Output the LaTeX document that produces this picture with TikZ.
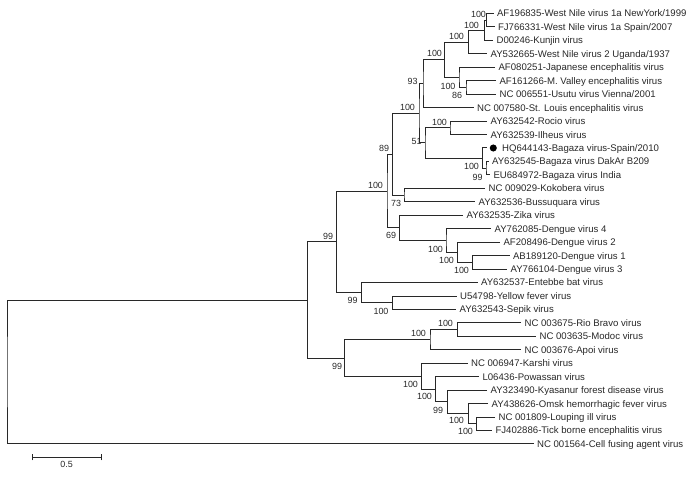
\documentclass[tikz,border=0pt]{standalone}
\usepackage{fontspec}
\setmainfont{Liberation Sans}
\definecolor{ink}{RGB}{40,40,40}
\newcommand\taxfont{\fontsize{7.2}{8.5}\selectfont}
\newcommand\bootfont{\fontsize{6.7}{8}\selectfont}
\tikzset{every picture/.style={line width=0.75pt}}

\begin{document}
\begin{tikzpicture}[x=0.75pt,y=0.75pt,yscale=-1,
  taxon/.style={anchor=west,inner xsep=2.3pt,inner ysep=0pt,text height=5.2pt,text depth=0pt,text=ink,font=\taxfont},
  boot/.style={inner sep=0pt,text height=4.8pt,text depth=0pt,text=ink,font=\bootfont},
  branch/.style={draw=ink},
  spot/.style={circle,fill=black,inner sep=0pt,minimum size=5.3pt}]
\useasboundingbox (0,0) rectangle (700,481);

% Taxa
\node[taxon] (l1) at (493.5,13.5) {AF196835-West Nile virus 1a NewYork/1999};
\node[taxon] (l2) at (494.5,27) {FJ766331-West Nile virus 1a Spain/2007};
\node[taxon] (l3) at (493,40.4) {D00246-Kunjin virus};
\node[taxon] (l4) at (487,53.9) {AY532665-West Nile virus 2 Uganda/1937};
\node[taxon] (l5) at (495,67.3) {AF080251-Japanese encephalitis virus};
\node[taxon] (l6) at (496,80.8) {AF161266-M. Valley encephalitis virus};
\node[taxon] (l7) at (496,94.2) {NC 006551-Usutu virus Vienna/2001};
\node[taxon] (l8) at (473.5,107.7) {NC 007580-St. Louis encephalitis virus};
\node[taxon] (l9) at (487,121.1) {AY632542-Rocio virus};
\node[taxon] (l10) at (487,134.6) {AY632539-Ilheus virus};
\node[taxon] (l11) at (486.7,148) {\hspace{8.9pt}HQ644143-Bagaza virus-Spain/2010};
\node[taxon] (l12) at (488.5,161.5) {AY632545-Bagaza virus DakAr B209};
\node[taxon] (l13) at (490,174.9) {EU684972-Bagaza virus India};
\node[taxon] (l14) at (485,188.4) {NC 009029-Kokobera virus};
\node[taxon] (l15) at (475,201.8) {AY632536-Bussuquara virus};
\node[taxon] (l16) at (463,215.3) {AY632535-Zika virus};
\node[taxon] (l17) at (491,228.7) {AY762085-Dengue virus 4};
\node[taxon] (l18) at (500,242.2) {AF208496-Dengue virus 2};
\node[taxon] (l19) at (509.5,255.6) {AB189120-Dengue virus 1};
\node[taxon] (l20) at (507,269.1) {AY766104-Dengue virus 3};
\node[taxon] (l21) at (477.5,282.5) {AY632537-Entebbe bat virus};
\node[taxon] (l22) at (456.5,296) {U54798-Yellow fever virus};
\node[taxon] (l23) at (456,309.4) {AY632543-Sepik virus};
\node[taxon] (l24) at (521,322.9) {NC 003675-Rio Bravo virus};
\node[taxon] (l25) at (536,336.3) {NC 003635-Modoc virus};
\node[taxon] (l26) at (521,349.8) {NC 003676-Apoi virus};
\node[taxon] (l27) at (467.5,363.2) {NC 006947-Karshi virus};
\node[taxon] (l28) at (479,376.7) {L06436-Powassan virus};
\node[taxon] (l29) at (487,390.1) {AY323490-Kyasanur forest disease virus};
\node[taxon] (l30) at (488,403.6) {AY438626-Omsk hemorrhagic fever virus};
\node[taxon] (l31) at (495,417) {NC 001809-Louping ill virus};
\node[taxon] (l32) at (492,430.5) {FJ402886-Tick borne encephalitis virus};
\node[taxon] (l33) at (533.5,443.9) {NC 001564-Cell fusing agent virus};
% marker on the Spanish isolate
\node[spot] (spain) at ([xshift=4.95pt]l11.west) {};

% Inner nodes
\coordinate (wn1a) at (486.7,20.25);
\coordinate (kun) at (484.5,30.3);
\coordinate (wnv) at (468.3,42.1);
\coordinate (mvu) at (466,87.5);
\coordinate (jev) at (459,77.4);
\coordinate (jewn) at (444.3,59.8);
\coordinate (sle) at (423,83.7);
\coordinate (roc) at (450,127.9);
\coordinate (bgz2) at (486,168.2);
\coordinate (bgz) at (482.7,158.1);
\coordinate (ntaya) at (425,143);
\coordinate (mbA) at (419,113.4);
\coordinate (kok) at (404,195.1);
\coordinate (mbB) at (392.7,154.3);
\coordinate (den3) at (472.7,262.35);
\coordinate (den2) at (457.7,252.3);
\coordinate (den4) at (446,240.5);
\coordinate (zika) at (399.3,227.9);
\coordinate (mbv) at (387,191.1);
\coordinate (yf) at (392.7,302.7);
\coordinate (ent) at (361.7,292.6);
\coordinate (mosq) at (336.7,241.9);
\coordinate (rb) at (457.3,329.6);
\coordinate (nkv) at (430,339.7);
\coordinate (tbe2) at (476.7,423.75);
\coordinate (omsk) at (468.3,413.7);
\coordinate (kfd) at (447.3,401.9);
\coordinate (pow) at (435.7,389.3);
\coordinate (tbv) at (421.7,376.25);
\coordinate (ntick) at (344.5,358);
\coordinate (flavi) at (307.5,300);
\coordinate (root) at (7,372);

% Branches
\draw[branch] (l1.west) -| (wn1a) |- (l2.west);
\draw[branch] (wn1a) -| (kun) |- (l3.west);
\draw[branch] (kun) -| (wnv) |- (l4.west);
\draw[branch] (l6.west) -| (mvu) |- (l7.west);
\draw[branch] (l5.west) -| (jev) |- (mvu);
\draw[branch] (wnv) -| (jewn) |- (jev);
\draw[branch] (jewn) -| (sle) |- (l8.west);
\draw[branch] (l9.west) -| (roc) |- (l10.west);
\draw[branch] (l12.west) -| (bgz2) |- (l13.west);
\draw[branch] (l11.west) -| (bgz) |- (bgz2);
\draw[branch] (roc) -| (ntaya) |- (bgz);
\draw[branch] (sle) -| (mbA) |- (ntaya);
\draw[branch] (l14.west) -| (kok) |- (l15.west);
\draw[branch] (mbA) -| (mbB) |- (kok);
\draw[branch] (l19.west) -| (den3) |- (l20.west);
\draw[branch] (l18.west) -| (den2) |- (den3);
\draw[branch] (l17.west) -| (den4) |- (den2);
\draw[branch] (l16.west) -| (zika) |- (den4);
\draw[branch] (mbB) -| (mbv) |- (zika);
\draw[branch] (l22.west) -| (yf) |- (l23.west);
\draw[branch] (l21.west) -| (ent) |- (yf);
\draw[branch] (mbv) -| (mosq) |- (ent);
\draw[branch] (l24.west) -| (rb) |- (l25.west);
\draw[branch] (rb) -| (nkv) |- (l26.west);
\draw[branch] (l31.west) -| (tbe2) |- (l32.west);
\draw[branch] (l30.west) -| (omsk) |- (tbe2);
\draw[branch] (l29.west) -| (kfd) |- (omsk);
\draw[branch] (l28.west) -| (pow) |- (kfd);
\draw[branch] (l27.west) -| (tbv) |- (pow);
\draw[branch] (nkv) -| (ntick) |- (tbv);
\draw[branch] (mosq) -| (flavi) |- (ntick);
\draw[branch] (flavi) -| (root) |- (l33.west);

% Bootstrap values
\node[boot] (bwn1a) at (478.5,14) {100};
\node[boot] (bkun) at (471.5,25) {100};
\node[boot] (bwnv) at (456.5,36.7) {100};
\node[boot] (bjewn) at (434.5,53) {100};
\node[boot] (bjev) at (448,86) {100};
\node[boot] (bmvu) at (457,95) {86};
\node[boot] (bsle) at (412.5,81.5) {93};
\node[boot] (bmbA) at (407.5,107) {100};
\node[boot] (broc) at (439.5,122) {100};
\node[boot] (bntaya) at (416.5,141.7) {51};
\node[boot] (bbgz) at (471.5,166) {100};
\node[boot] (bbgz2) at (477.5,177.3) {99};
\node[boot] (bmbB) at (384,148.3) {89};
\node[boot] (bkok) at (396,203.3) {73};
\node[boot] (bmbv) at (375.5,185) {100};
\node[boot] (bzika) at (391,235.5) {69};
\node[boot] (bden4) at (435.5,249) {100};
\node[boot] (bden2) at (446.5,260) {100};
\node[boot] (bden3) at (461.5,270) {100};
\node[boot] (bmosq) at (328,236) {99};
\node[boot] (bent) at (352.5,300.7) {99};
\node[boot] (byf) at (381,311) {100};
\node[boot] (brb) at (445.5,323.3) {100};
\node[boot] (bnkv) at (418.5,333.3) {100};
\node[boot] (bntick) at (337,366) {99};
\node[boot] (btbv) at (410.5,384) {100};
\node[boot] (bpow) at (424.5,396.7) {100};
\node[boot] (bkfd) at (438,410) {99};
\node[boot] (bomsk) at (456.5,420.7) {100};
\node[boot] (btbe2) at (465.5,431) {100};

% Scale bar
\coordinate (barL) at (32,457);
\coordinate (barR) at (101,457);
\draw[branch] (barL) -- (barR);
\foreach \p in {barL,barR}
  \draw[branch] ([yshift=2.5pt]\p) -- ([yshift=-2.5pt]\p);
\node[boot] (barlab) at (66.7,464.5) {0.5};

\end{tikzpicture}
\end{document}
